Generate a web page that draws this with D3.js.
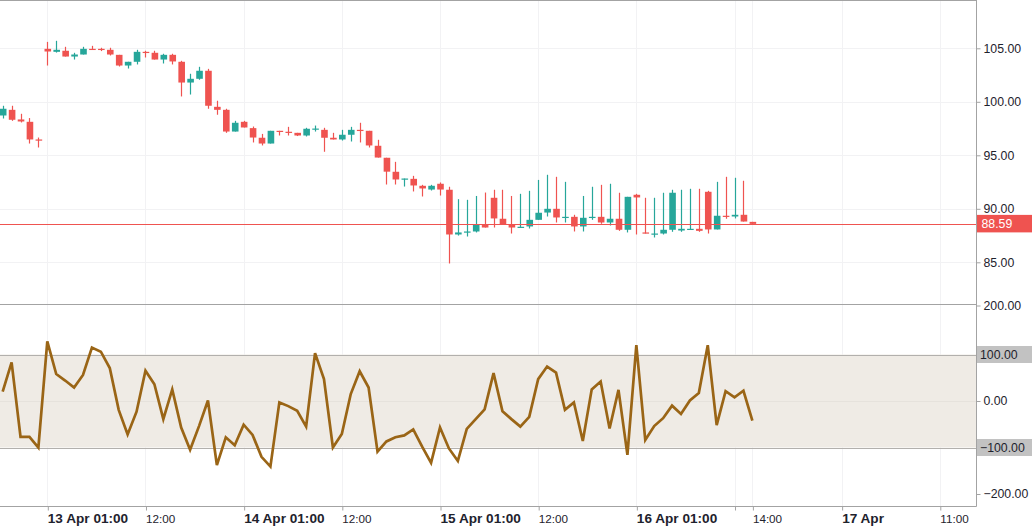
<!DOCTYPE html>
<html>
<head>
<meta charset="utf-8">
<script src="https://cdnjs.cloudflare.com/ajax/libs/d3/7.8.5/d3.min.js"></script>
<style>
  body { margin: 0; background: #fff; }
  svg { display: block; }
  .axisLabel { font-family: "Liberation Sans", Arial, sans-serif; fill: #1e222d; }
</style>
</head>
<body>
<script>
// bar index 0 = 13 Apr 01:00, one bar per hour of trading
var barIdx = d3.range(-5, 80);
var open  = [98.72, 99.25, 98.35, 98.13, 96.48, 104.95, 104.67, 104.77, 104.23, 104.42,
             104.95, 104.95, 104.86, 104.39, 103.39, 103.74, 104.67, 104.58, 103.95, 104.39,
             103.74, 101.80, 102.15, 102.90, 99.53, 99.25, 97.22, 98.13, 97.54, 96.64,
             96.10, 97.29, 97.20, 97.10, 96.85, 97.48, 97.38, 96.64, 96.48, 96.92,
             97.38, 97.29, 95.89, 94.77, 93.46, 92.77, 92.80, 92.15, 91.80, 92.34,
             91.78, 87.60, 87.79, 87.88, 88.50, 91.03, 89.07, 88.50, 88.22, 88.35,
             88.97, 89.65, 90.00, 89.16, 89.25, 88.35, 89.16, 89.25, 88.72, 89.07,
             88.04, 91.31, 87.79, 87.60, 87.69, 88.04, 87.97, 88.07, 88.13, 91.59,
             88.07, 89.35, 89.28, 89.44, 88.78];
var high  = [99.63, 99.63, 98.88, 98.48, 96.66, 105.60, 105.70, 105.14, 104.58, 105.14,
             105.23, 105.05, 105.05, 104.39, 103.74, 104.86, 104.77, 104.77, 104.49, 104.49,
             103.83, 102.62, 103.27, 103.08, 100.10, 99.35, 98.22, 98.22, 97.69, 97.00,
             97.29, 97.29, 97.66, 97.10, 97.57, 97.78, 97.57, 97.10, 97.38, 97.66,
             98.04, 97.29, 96.45, 94.77, 94.39, 92.83, 93.08, 92.24, 92.24, 92.46,
             92.06, 90.90, 90.84, 91.20, 91.52, 91.78, 91.78, 91.20, 91.40, 91.68,
             92.70, 93.18, 92.99, 92.52, 89.44, 91.20, 92.06, 92.24, 92.34, 91.50,
             91.12, 91.40, 91.03, 91.03, 91.50, 91.78, 91.78, 91.87, 91.87, 91.68,
             92.52, 92.99, 92.90, 92.62, 88.78];
var low   = [98.44, 98.22, 98.07, 96.10, 95.73, 103.39, 104.60, 104.23, 103.95, 104.42,
             104.86, 104.74, 104.33, 103.30, 103.11, 103.49, 104.14, 103.95, 103.58, 103.49,
             100.50, 100.68, 102.06, 99.35, 98.79, 97.10, 97.22, 97.60, 96.20, 95.92,
             96.10, 96.85, 96.85, 96.80, 96.76, 97.22, 95.33, 96.48, 96.38, 96.29,
             96.20, 95.73, 94.79, 92.27, 92.27, 92.08, 91.62, 91.15, 91.71, 91.24,
             84.89, 87.50, 87.41, 87.79, 88.25, 88.25, 88.53, 87.69, 88.22, 88.16,
             88.97, 89.28, 88.72, 88.72, 87.88, 87.88, 88.97, 88.60, 88.44, 87.94,
             87.79, 87.60, 87.69, 87.32, 87.60, 87.85, 87.85, 88.07, 87.85, 87.69,
             88.07, 89.07, 89.10, 88.81, 88.59];
var close = [99.35, 98.32, 98.16, 96.48, 96.42, 104.70, 104.86, 104.23, 104.42, 104.95,
             104.89, 104.86, 104.42, 103.39, 103.74, 104.67, 104.61, 103.95, 104.39, 103.77,
             101.80, 102.15, 102.90, 99.63, 99.25, 97.22, 98.04, 97.60, 96.66, 96.10,
             97.29, 97.22, 97.14, 96.85, 97.48, 97.50, 96.64, 96.48, 96.92, 97.38,
             97.32, 95.92, 94.79, 93.47, 92.74, 92.83, 92.18, 91.90, 92.15, 91.80,
             87.60, 87.79, 87.88, 88.50, 88.25, 89.10, 88.53, 88.25, 88.32, 88.97,
             89.63, 90.00, 89.19, 89.25, 88.35, 89.16, 89.25, 88.72, 89.07, 88.04,
             91.12, 91.06, 87.69, 87.69, 88.04, 91.50, 88.13, 88.13, 87.94, 88.07,
             89.35, 89.25, 89.44, 88.81, 88.59];
var cci   = [20, 83, -77, -77, -100, 128, 58, 44, 29, 56,
             115, 106, 71, -19, -72, -23, 65, 36, -39, 25,
             -57, -105, -54, 1, -138, -78, -95, -51, -73, -120,
             -141, -3, -11, -21, -55, 103, 47, -100, -71, 15,
             64, 29, -109, -87, -78, -74, -61, -98, -133, -57,
             -102, -129, -60, -39, -18, 60, -22, -39, -55, -34,
             47, 74, 61, -19, -3, -86, 25, 42, -59, 24,
             -116, 120, -84, -54, -37, -10, -28, 1, 17, 120,
             -52, 21, 8, 22, -42];
var lastPrice = 88.59;

var priceTicks = [85, 90, 95, 100, 105];
var cciTicks = [-200, 0, 200];
var cciBand = [100, -100];
var timeTickIdx = [0, 11, 22, 33, 44, 55, 66, 77, 79, 89, 100];
var timeTickLabels = ["13 Apr 01:00", "12:00", "14 Apr 01:00", "12:00", "15 Apr 01:00", "12:00",
                      "16 Apr 01:00", "", "14:00", "17 Apr", "11:00"];

var width = 1032, height = 530,
    plotRight = 976,
    priceBottom = 304,
    cciBottom = 506;

var bars = barIdx.map(function(d, i) {
  return {i: d, open: open[i], high: high[i], low: low[i], close: close[i], cci: cci[i]};
});

// scales
var x = d3.scaleLinear().domain([0, 100]).range([47.3, 939.8]);
var y = d3.scaleLinear().domain([85, 105]).range([262.3, 48.3]);
var yc = d3.scaleLinear().domain([-200, 200]).range([494, 308]);

var svg = d3.select("body").append("svg")
    .attr("width", width)
    .attr("height", height);

svg.append("rect").attr("width", width).attr("height", height).attr("fill", "#fff");

svg.append("clipPath").attr("id", "plotClip")
  .append("rect").attr("x", 0).attr("y", 0).attr("width", plotRight).attr("height", cciBottom);

// grid
var grid = svg.append("g").attr("stroke", "#f2f2f4").attr("stroke-width", 1);
grid.selectAll(".vgrid")
  .data(timeTickIdx)
  .enter().append("line")
    .attr("x1", function(d) { return Math.round(x(d)) + 0.5; })
    .attr("x2", function(d) { return Math.round(x(d)) + 0.5; })
    .attr("y1", 0).attr("y2", cciBottom);
grid.selectAll(".hgrid")
  .data(priceTicks)
  .enter().append("line")
    .attr("x1", 0).attr("x2", plotRight)
    .attr("y1", function(d) { return Math.round(y(d)) + 0.5; })
    .attr("y2", function(d) { return Math.round(y(d)) + 0.5; });

// cci band
svg.append("rect")
    .attr("x", 0).attr("width", plotRight)
    .attr("y", yc(100)).attr("height", yc(-100) - yc(100))
    .attr("fill", "#efebe5");
svg.append("line")
    .attr("x1", 0).attr("x2", plotRight)
    .attr("y1", Math.round(yc(0)) + 0.5).attr("y2", Math.round(yc(0)) + 0.5)
    .attr("stroke", "#e6e2dc");
cciBand.forEach(function(v) {
  svg.append("line")
      .attr("x1", 0).attr("x2", plotRight)
      .attr("y1", Math.round(yc(v)) + 0.5).attr("y2", Math.round(yc(v)) + 0.5)
      .attr("stroke", "#b2b0ad");
});

// candles
var candles = svg.append("g").attr("clip-path", "url(#plotClip)");
var up = "#26a69a", down = "#ef5350", bodyW = 6.6;

candles.selectAll(".wick")
  .data(bars)
  .enter().append("line")
    .attr("class", "wick")
    .attr("x1", function(d) { return Math.round(x(d.i)) + 0.5; })
    .attr("x2", function(d) { return Math.round(x(d.i)) + 0.5; })
    .attr("y1", function(d) { return y(d.high); })
    .attr("y2", function(d) { return y(d.low); })
    .attr("stroke", function(d) { return d.close >= d.open ? up : down; })
    .attr("stroke-width", 1.2);

candles.selectAll(".body")
  .data(bars)
  .enter().append("rect")
    .attr("class", "body")
    .attr("x", function(d) { return x(d.i) - bodyW / 2 + 0.5; })
    .attr("width", bodyW)
    .attr("y", function(d) { return y(Math.max(d.open, d.close)); })
    .attr("height", function(d) { return Math.max(1.2, Math.abs(y(d.open) - y(d.close))); })
    .attr("fill", function(d) { return d.close >= d.open ? up : down; });

// last price line
svg.append("line")
    .attr("x1", 0).attr("x2", plotRight)
    .attr("y1", Math.round(y(lastPrice)) + 0.5).attr("y2", Math.round(y(lastPrice)) + 0.5)
    .attr("stroke", down);

// cci line
var cciLine = d3.line()
    .x(function(d) { return x(d.i); })
    .y(function(d) { return yc(d.cci); });

svg.append("path")
    .datum(bars)
    .attr("clip-path", "url(#plotClip)")
    .attr("fill", "none")
    .attr("stroke", "#9a6516")
    .attr("stroke-width", 2.7)
    .attr("d", cciLine);

// frame and separators
var frame = svg.append("g").attr("stroke", "#a3a3a3").attr("stroke-width", 1);
frame.append("line").attr("x1", 0).attr("x2", plotRight + 0.5).attr("y1", 0.5).attr("y2", 0.5);
frame.append("line").attr("x1", 0).attr("x2", plotRight + 0.5).attr("y1", priceBottom + 0.5).attr("y2", priceBottom + 0.5);
frame.append("line").attr("x1", 0).attr("x2", plotRight + 0.5).attr("y1", cciBottom + 0.5).attr("y2", cciBottom + 0.5);
frame.append("line").attr("x1", plotRight + 0.5).attr("x2", plotRight + 0.5).attr("y1", 0).attr("y2", cciBottom + 0.5);

// price axis
var yAxis = d3.axisRight(y).tickValues(priceTicks).tickFormat(d3.format(".2f")).tickSize(4).tickPadding(3);
var gy = svg.append("g")
    .attr("transform", "translate(" + (plotRight + 0.5) + ",0)")
    .call(yAxis);

var ycAxis = d3.axisRight(yc).tickValues(cciTicks).tickFormat(d3.format(".2f")).tickSize(4).tickPadding(3);
var gyc = svg.append("g")
    .attr("transform", "translate(" + (plotRight + 0.5) + ",0)")
    .call(ycAxis);

[gy, gyc].forEach(function(g) {
  g.select(".domain").remove();
  g.selectAll(".tick line").attr("stroke", "#a3a3a3");
  g.selectAll(".tick text")
      .attr("class", "axisLabel")
      .attr("font-size", 12.3)
      .attr("fill", "#1e222d");
});
gyc.selectAll(".tick").filter(function(d) { return d === 200; }).attr("transform", "translate(0,306)");

// band labels with gray boxes
cciBand.forEach(function(v) {
  var cy = yc(v);
  svg.append("rect")
      .attr("x", plotRight + 1).attr("y", cy - 8.5)
      .attr("width", width - plotRight - 1).attr("height", 17)
      .attr("fill", "#c2c2c2");
  svg.append("text")
      .attr("class", "axisLabel")
      .attr("x", plotRight + 4).attr("y", cy)
      .attr("dy", "0.35em")
      .attr("font-size", 12.3)
      .text(d3.format(".2f")(v));
});

// last price label
svg.append("rect")
    .attr("x", plotRight + 1).attr("y", y(lastPrice) - 9)
    .attr("width", width - plotRight - 1).attr("height", 17.5)
    .attr("fill", down);
svg.append("text")
    .attr("class", "axisLabel")
    .attr("x", plotRight + 5.5).attr("y", y(lastPrice) + 0.3)
    .attr("dy", "0.35em")
    .attr("font-size", 12.3)
    .style("fill", "#fff")
    .text(d3.format(".2f")(lastPrice));

// time axis
var xAxis = d3.axisBottom(x).tickValues(timeTickIdx)
    .tickFormat(function(d, i) { return timeTickLabels[i]; })
    .tickSize(4).tickPadding(6);
var gx = svg.append("g")
    .attr("transform", "translate(0," + (cciBottom + 0.5) + ")")
    .call(xAxis);
gx.select(".domain").remove();
gx.selectAll(".tick line")
    .attr("stroke", "#a3a3a3")
    .attr("transform", "translate(0.5,0)");
gx.selectAll(".tick text")
    .attr("class", "axisLabel")
    .attr("text-anchor", "start")
    .attr("dy", null)
    .attr("y", 16.5)
    .attr("font-size", function(d, i) { return timeTickLabels[i].indexOf("Apr") >= 0 ? 13.6 : 11.7; })
    .attr("font-weight", function(d, i) { return timeTickLabels[i].indexOf("Apr") >= 0 ? "bold" : "normal"; });
</script>
</body>
</html>
